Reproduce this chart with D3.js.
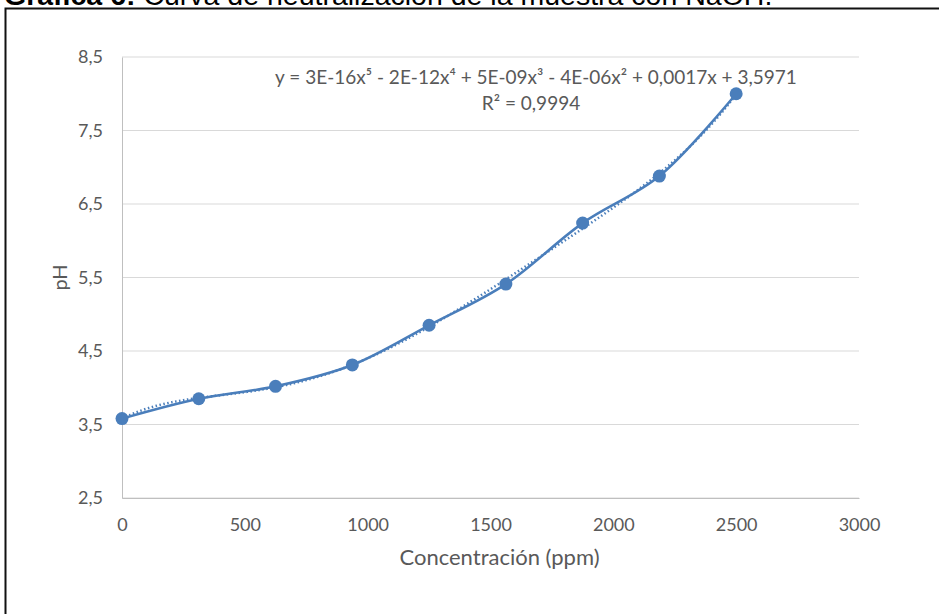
<!DOCTYPE html>
<html>
<head>
<meta charset="utf-8">
<script src="https://cdn.jsdelivr.net/npm/d3@7"></script>
<style>
  body { margin: 0; background: #fff; }
  svg { display: block; }
  .tick text { fill: #595959; font-family: Lato, "Open Sans", sans-serif; font-size: 18px; }
</style>
</head>
<body>
<div id="chart"></div>
<script>
// Data
const concentration = [0, 312.5, 625, 937.5, 1250, 1562.5, 1875, 2187.5, 2500];
const ph = [3.58, 3.85, 4.02, 4.31, 4.85, 5.41, 6.24, 6.88, 8.0];
const xTicks = [0, 500, 1000, 1500, 2000, 2500, 3000];
const yTicks = [2.5, 3.5, 4.5, 5.5, 6.5, 7.5, 8.5];
const equationLines = [
  "y = 3E-16x\u2075 - 2E-12x\u2074 + 5E-09x\u00B3 - 4E-06x\u00B2 + 0,0017x + 3,5971",
  "R\u00B2 = 0,9994"
];

const W = 939, H = 614;
const blue = "#4a7ebb";
const margin = { top: 57, right: 80, bottom: 116, left: 122 };
const width = W - margin.left - margin.right,
      height = H - margin.top - margin.bottom;

const svg = d3.select("#chart").append("svg")
    .attr("width", W)
    .attr("height", H);

// Frame around the figure (only top and left visible)
svg.append("rect")
    .attr("x", 5.5).attr("y", 8.5)
    .attr("width", W + 20).attr("height", H + 20)
    .attr("fill", "none")
    .attr("stroke", "#111")
    .attr("stroke-width", 2);

// Title, mostly cut off at the top edge
const title = svg.append("text")
    .attr("x", 4).attr("y", 4.5)
    .attr("font-family", "Liberation Sans, Arial, sans-serif")
    .attr("font-size", 28.5)
    .attr("fill", "#000");
title.append("tspan").attr("font-weight", "bold").text("Gráfica 6:");
title.append("tspan").text(" Curva de neutralización de la muestra con NaOH.");

const g = svg.append("g")
    .attr("transform", "translate(" + margin.left + "," + margin.top + ")");

const x = d3.scaleLinear().domain([0, 3000]).range([0, width]);
const y = d3.scaleLinear().domain([2.5, 8.5]).range([height, 0]);

// Gridlines
g.append("g")
    .selectAll("line")
    .data(yTicks)
    .join("line")
      .attr("x1", 0).attr("x2", width)
      .attr("y1", d => y(d)).attr("y2", d => y(d))
      .attr("stroke", "#d9d9d9")
      .attr("stroke-width", 1);

// Axes
const fmt = d3.formatLocale({ decimal: ",", thousands: "", grouping: [3], currency: ["", ""] });
const yAxis = g.append("g")
    .call(d3.axisLeft(y).tickValues(yTicks).tickSize(0).tickPadding(19).tickFormat(fmt.format(".1f")));
yAxis.select(".domain").attr("stroke", "#bfbfbf");

const xAxis = g.append("g")
    .attr("transform", "translate(0," + height + ")")
    .call(d3.axisBottom(x).tickValues(xTicks).tickSize(0).tickPadding(20).tickFormat(d3.format("d")));
xAxis.select(".domain").attr("stroke", "#bfbfbf");

// Axis titles
g.append("text")
    .attr("x", width / 2 + 9)
    .attr("y", height + 67)
    .attr("text-anchor", "middle")
    .attr("font-family", "Lato, 'Open Sans', sans-serif")
    .attr("font-size", 22)
    .attr("fill", "#595959")
    .text("Concentración (ppm)");

g.append("text")
    .attr("transform", "translate(-55," + (height / 2) + ") rotate(-90)")
    .attr("text-anchor", "middle")
    .attr("font-family", "Lato, 'Open Sans', sans-serif")
    .attr("font-size", 20)
    .attr("fill", "#595959")
    .text("pH");

// Polynomial trendline (order 5), least squares fit on the data
function polyFit(xs, ys, deg) {
  const s = 1000; // scale x for conditioning
  const n = deg + 1;
  const A = Array.from({ length: n }, () => new Array(n + 1).fill(0));
  xs.forEach((xv, k) => {
    const t = xv / s;
    for (let i = 0; i < n; i++) {
      for (let j = 0; j < n; j++) A[i][j] += Math.pow(t, i + j);
      A[i][n] += ys[k] * Math.pow(t, i);
    }
  });
  for (let c = 0; c < n; c++) {
    let p = c;
    for (let r = c + 1; r < n; r++) if (Math.abs(A[r][c]) > Math.abs(A[p][c])) p = r;
    [A[c], A[p]] = [A[p], A[c]];
    for (let r = 0; r < n; r++) {
      if (r === c) continue;
      const f = A[r][c] / A[c][c];
      for (let k = c; k <= n; k++) A[r][k] -= f * A[c][k];
    }
  }
  const coef = A.map((row, i) => row[n] / row[i]);
  return xv => coef.reduce((acc, cf, i) => acc + cf * Math.pow(xv / s, i), 0);
}
const trend = polyFit(concentration, ph, 5);
const trendPts = d3.range(0, 2501, 10).map(v => [v, trend(v)]);

g.append("path")
    .datum(trendPts)
    .attr("fill", "none")
    .attr("stroke", blue)
    .attr("stroke-width", 2.5)
    .attr("stroke-dasharray", "1.5 2.5")
    .attr("d", d3.line().x(d => x(d[0])).y(d => y(d[1])));

// Smoothed data line
const pts = concentration.map((c, i) => [c, ph[i]]);
g.append("path")
    .datum(pts)
    .attr("fill", "none")
    .attr("stroke", blue)
    .attr("stroke-width", 2.5)
    .attr("d", d3.line().x(d => x(d[0])).y(d => y(d[1])).curve(d3.curveCatmullRom.alpha(0.5)));

// Markers
g.append("g")
    .selectAll("circle")
    .data(pts)
    .join("circle")
      .attr("cx", d => x(d[0]))
      .attr("cy", d => y(d[1]))
      .attr("r", 6.5)
      .attr("fill", blue);

// Trendline equation
const eq = g.append("text")
    .attr("text-anchor", "middle")
    .attr("font-family", "Lato, 'Open Sans', sans-serif")
    .attr("font-size", 19)
    .attr("fill", "#595959");
eq.selectAll("tspan")
    .data(equationLines)
    .join("tspan")
      .attr("x", (d, i) => i === 0 ? 414 : 409)
      .attr("y", (d, i) => 27 + i * 26)
      .text(d => d);
</script>
</body>
</html>
